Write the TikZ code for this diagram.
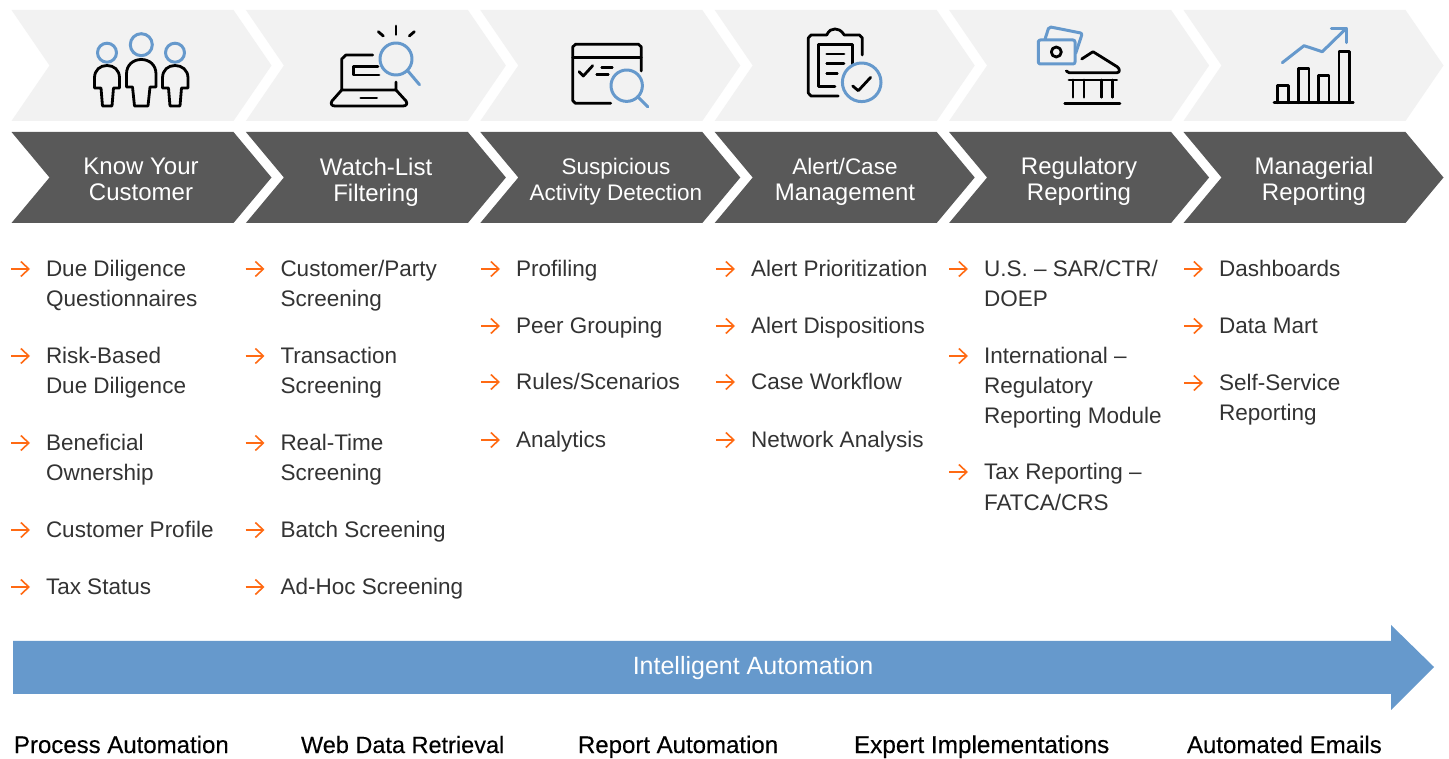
\documentclass[tikz,border=0pt]{standalone}
\usepackage{fontspec}
\setmainfont{Liberation Sans}
\newfontfamily\footfont[FakeBold=0.25]{Liberation Sans}
\usetikzlibrary{arrows.meta}
\begin{document}
\begin{tikzpicture}[x=1pt,y=1pt,
  lightchevron/.style={fill=lightColor},
  darkchevron/.style={fill=darkColor},
  header/.style={text=white,anchor=center,align=center,inner sep=0pt,outer sep=0pt,font=\fontsize{24}{26}\selectfont},
  itemarrow/.style={draw=orangeColor,line width=1.6pt,-{Straight Barb[length=8pt,width=15pt,line width=1.6pt]}},
  listitem/.style={text=textColor,anchor=north west,align=left,inner sep=0pt,outer sep=0pt,font=\fontsize{22.5}{30}\selectfont,
    append after command={([shift={(-35,-13)}]\tikzlastnode.north west) edge[itemarrow] ([shift={(-16,-13)}]\tikzlastnode.north west)}},
  footer/.style={text=black,anchor=base west,inner sep=0pt,outer sep=0pt,font=\footfont\fontsize{24}{28}\selectfont},
  blackline/.style={draw=black,line width=2.8pt,line join=round,line cap=round},
  blueline/.style={draw=blueColor,line width=3pt,line join=round,line cap=round}]
\definecolor{lightColor}{RGB}{242,242,242}
\definecolor{darkColor}{RGB}{89,89,89}
\definecolor{blueColor}{RGB}{102,153,204}
\definecolor{orangeColor}{RGB}{255,106,19}
\definecolor{textColor}{RGB}{51,51,51}
\path[use as bounding box,fill=white] (0,0) rectangle (1449,758);

% top row
\path[lightchevron] (  11.5,748) -- ++(222,0) -- ++(38,-55.5) -- ++(-38,-55.5) -- ++(-222,0) -- ++(38,55.5) -- cycle;
\path[lightchevron] ( 245.9,748) -- ++(222,0) -- ++(38,-55.5) -- ++(-38,-55.5) -- ++(-222,0) -- ++(38,55.5) -- cycle;
\path[lightchevron] ( 480.3,748) -- ++(222,0) -- ++(38,-55.5) -- ++(-38,-55.5) -- ++(-222,0) -- ++(38,55.5) -- cycle;
\path[lightchevron] ( 714.7,748) -- ++(222,0) -- ++(38,-55.5) -- ++(-38,-55.5) -- ++(-222,0) -- ++(38,55.5) -- cycle;
\path[lightchevron] ( 949.1,748) -- ++(222,0) -- ++(38,-55.5) -- ++(-38,-55.5) -- ++(-222,0) -- ++(38,55.5) -- cycle;
\path[lightchevron] (1183.5,748) -- ++(222,0) -- ++(38,-55.5) -- ++(-38,-55.5) -- ++(-222,0) -- ++(38,55.5) -- cycle;

% second row
\path[darkchevron] (  11.5,626) -- ++(222,0) -- ++(38,-45.5) -- ++(-38,-45.5) -- ++(-222,0) -- ++(38,45.5) -- cycle;
\path[darkchevron] ( 245.9,626) -- ++(222,0) -- ++(38,-45.5) -- ++(-38,-45.5) -- ++(-222,0) -- ++(38,45.5) -- cycle;
\path[darkchevron] ( 480.3,626) -- ++(222,0) -- ++(38,-45.5) -- ++(-38,-45.5) -- ++(-222,0) -- ++(38,45.5) -- cycle;
\path[darkchevron] ( 714.7,626) -- ++(222,0) -- ++(38,-45.5) -- ++(-38,-45.5) -- ++(-222,0) -- ++(38,45.5) -- cycle;
\path[darkchevron] ( 949.1,626) -- ++(222,0) -- ++(38,-45.5) -- ++(-38,-45.5) -- ++(-222,0) -- ++(38,45.5) -- cycle;
\path[darkchevron] (1183.5,626) -- ++(222,0) -- ++(38,-45.5) -- ++(-38,-45.5) -- ++(-222,0) -- ++(38,45.5) -- cycle;

\node[header] (kycHead) at ( 141,578.5) {Know Your\\Customer};
\node[header] (watchHead) at ( 376,576) {Watch-List\\Filtering};
\node[header,font=\fontsize{22.5}{26}\selectfont] (sadHead) at ( 616,576.5) {Suspicious\\Activity Detection};
\node[header] (caseHead) at ( 845,576.5) {{\fontsize{22.5}{26}\selectfont Alert/Case}\\Management};
\node[header] (regHead) at (1079,576.5) {Regulatory\\Reporting};
\node[header] (mgrHead) at (1314,576.5) {Managerial\\Reporting};

% icons, in a frame that counts downwards from the top
\begin{scope}[y=-1pt,yshift=758pt]
% people
\path[blueline] (107,52.7) circle (9.5);
\path[blueline] (141.3,44.7) circle (11);
\path[blueline] (175,52.7) circle (9.5);
\path[blackline] (101,88) -- (94.5,88) -- (94.5,78) .. controls (94.5,70) and (100,65.5) .. (107,65.5) .. controls (114,65.5) and (119.5,70) .. (119.5,78) -- (119.5,88) -- (113.5,88) -- (112,106) -- (102.5,106) -- cycle;
\path[blackline] (132.5,87) -- (126.5,87) -- (126.5,74) .. controls (126.5,65) and (133,59.5) .. (141.3,59.5) .. controls (149.5,59.5) and (156,65) .. (156,74) -- (156,87) -- (150,87) -- (148,106) -- (134.5,106) -- cycle;
\path[blackline] (168.5,88) -- (162.5,88) -- (162.5,78) .. controls (162.5,70) and (168,65.5) .. (175,65.5) .. controls (182,65.5) and (188,70) .. (188,78) -- (188,88) -- (181.5,88) -- (180,106) -- (170,106) -- cycle;
% laptop
\path[blackline] (372.7,55) -- (346,55) -- (341.7,59) -- (341.7,90) -- (396,90) -- (396,82);
\path[blackline] (341.7,90) -- (332,101) .. controls (330,104) and (332,106) .. (335,106) -- (403,106) .. controls (406,106) and (408,104) .. (406,101) -- (396,90);
\path[blackline] (360.7,98) -- (376.7,98);
\path[blackline] (378,66.7) -- (353.3,66.7) -- (353.3,75) -- (379,75);
\path[blackline] (396,26) -- (396,34.5);
\path[blackline] (378.3,31.7) -- (383.3,36);
\path[blackline] (414.3,31.7) -- (409.3,36);
\path[blueline] (396,59) circle (16);
\path[blueline] (407.5,70.5) -- (419.5,84.7);
% window
\path[blackline] (641.3,71) -- (641.3,47) -- (638.5,44.3) -- (575.5,44.3) -- (572.7,47) -- (572.7,100.5) -- (575.5,103.3) -- (610.7,103.3);
\path[blackline] (572.7,57.3) -- (641.3,57.3);
\path[blackline] (579,71.7) -- (583.3,76) -- (592.7,65.7);
\path[blackline] (601.7,67.3) -- (612.3,67.3);
\path[blackline] (596.7,74.3) -- (608.3,74.3);
\path[blueline] (626.7,85.7) circle (15.7);
\path[blueline] (637.7,96.7) -- (647.7,106.7);
% clipboard
\path[blackline] (838.3,96) -- (811,96) -- (808.3,93) -- (808.3,38) -- (811,35) -- (826.7,35) .. controls (829,30) and (832,29) .. (835,29) .. controls (838,29) and (841,30) .. (844.3,35) -- (859.5,35) -- (862.3,38) -- (862.3,55);
\path[blackline] (835,86.7) -- (818.3,86.7) -- (818.3,44.3) -- (852.7,44.3) -- (852.7,65);
\path[blackline] (826.7,54) -- (844,54);
\path[blackline] (826.7,63.3) -- (844,63.3);
\path[blackline] (826.7,73.3) -- (837.3,73.3);
\path[blueline] (861.7,82.3) circle (19.3);
\path[blackline] (852.7,86) -- (858.3,90.7) -- (870.7,77.3);
% bank
\path[blueline,rounded corners=2pt] (1038.3,40) rectangle (1075,64);
\path[blueline,rounded corners=2pt] (1045,39.3) -- (1049,26.7) -- (1082.3,33.3) -- (1075.7,53.3);
\path[blackline] (1056.3,52) circle (5);
\path[blackline] (1081.7,59) -- (1093,51.7) -- (1117.5,67) .. controls (1120,69) and (1120,72.7) .. (1117,72.7) -- (1069,72.7) .. controls (1068,72.7) and (1067,72) .. (1066.3,71);
\path[blackline] (1069,80) -- (1116.7,80);
\path[blackline] (1073,80) -- (1073,97.3);
\path[blackline] (1084,80) -- (1084,97.3);
\path[blackline] (1101.3,80) -- (1101.3,97.3);
\path[blackline] (1112.3,80) -- (1112.3,97.3);
\path[blackline] (1064.7,103.7) -- (1120,103.7);
% chart
\path[blackline] (1274,102.7) -- (1353.3,102.7);
\path[blackline] (1277.3,102.7) -- (1277.3,85.3) -- (1288.3,85.3) -- (1288.3,102.7);
\path[blackline] (1298.3,102.7) -- (1298.3,68.3) -- (1309,68.3) -- (1309,102.7);
\path[blackline] (1318.3,102.7) -- (1318.3,75.3) -- (1329,75.3) -- (1329,102.7);
\path[blackline] (1339,102.7) -- (1339,51.3) -- (1349.7,51.3) -- (1349.7,102.7);
\path[blueline] (1282.3,62.7) -- (1304,45.7) -- (1322.3,51.7) -- (1346.3,28.3);
\path[blueline] (1331.3,28.3) -- (1346.3,28.3) -- (1346.3,42.7);
\end{scope}

% lists
\node[listitem] (kycA) at (46,502) {\strut Due Diligence\\Questionnaires};
\node[listitem] (kycB) at (46,415) {\strut Risk-Based\\Due Diligence};
\node[listitem] (kycC) at (46,328) {\strut Beneficial\\Ownership};
\node[listitem] (kycD) at (46,241) {\strut Customer Profile};
\node[listitem] (kycE) at (46,184) {\strut Tax Status};

\node[listitem] (watchA) at (280.5,502) {\strut Customer/Party\\Screening};
\node[listitem] (watchB) at (280.5,415) {\strut Transaction\\Screening};
\node[listitem] (watchC) at (280.5,328) {\strut Real-Time\\Screening};
\node[listitem] (watchD) at (280.5,241) {\strut Batch Screening};
\node[listitem] (watchE) at (280.5,184) {\strut Ad-Hoc Screening};

\node[listitem] (sadA) at (516,502) {\strut Profiling};
\node[listitem] (sadB) at (516,445) {\strut Peer Grouping};
\node[listitem] (sadC) at (516,389) {\strut Rules/Scenarios};
\node[listitem] (sadD) at (516,331) {\strut Analytics};

\node[listitem] (caseA) at (751,502) {\strut Alert Prioritization};
\node[listitem] (caseB) at (751,445) {\strut Alert Dispositions};
\node[listitem] (caseC) at (751,389) {\strut Case Workflow};
\node[listitem] (caseD) at (751,331) {\strut Network Analysis};

\node[listitem] (regA) at (984,502) {\strut U.S. -- SAR/CTR/\\DOEP};
\node[listitem] (regB) at (984,415) {\strut International --\\Regulatory\\Reporting Module};
\node[listitem] (regC) at (984,299) {\strut Tax Reporting --\\[1pt]FATCA/CRS};

\node[listitem] (mgrA) at (1219,502) {\strut Dashboards};
\node[listitem] (mgrB) at (1219,445) {\strut Data Mart};
\node[listitem] (mgrC) at (1219,388) {\strut Self-Service\\Reporting};

% automation band
\path[fill=blueColor] (13,117) -- (1391,117) -- (1391,133) -- (1434,91) -- (1391,48) -- (1391,64) -- (13,64) -- cycle;
\node[text=white,anchor=center,inner sep=0pt,outer sep=0pt,font=\fontsize{25}{28}\selectfont] (band) at (753,90) {Intelligent Automation};

\node[footer] (footA) at (14,5) {Process Automation};
\node[footer,font=\footfont\fontsize{23.5}{28}\selectfont] (footB) at (301,5) {Web Data Retrieval};
\node[footer] (footC) at (578,5) {Report Automation};
\node[footer,font=\footfont\fontsize{24.3}{28}\selectfont] (footD) at (854,5) {Expert Implementations};
\node[footer] (footE) at (1187,5) {Automated Emails};
\end{tikzpicture}
\end{document}
